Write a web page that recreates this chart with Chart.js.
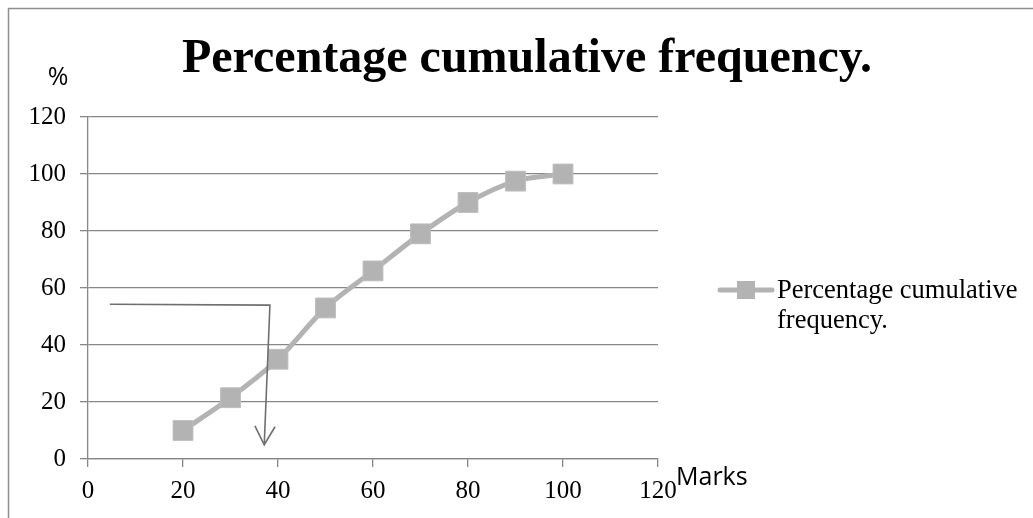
<!DOCTYPE html>
<html>
<head>
<meta charset="utf-8">
<script src="https://cdn.jsdelivr.net/npm/chart.js@4.4.1/dist/chart.umd.min.js"></script>
<style>
  body { margin: 0; background: #fff; }
  #wrap { width: 1033px; height: 518px; }
</style>
</head>
<body>
<div id="wrap"><canvas id="myChart" width="1033" height="518"></canvas></div>
<script>
// marks vs percentage cumulative frequency
const marks = [20, 30, 40, 50, 60, 70, 80, 90, 100];
const cumPercent = [10, 21.5, 35, 53, 66, 79, 90, 97.5, 100];
const seriesName = 'Percentage cumulative frequency.';
const xTicks = [0, 20, 40, 60, 80, 100, 120];
const yTicks = [0, 20, 40, 60, 80, 100, 120];

// reading line for the median: across from 54% then down to the marks axis
const arrowX = [4.6, 38.3, 37.1];
const arrowY = [54.3, 54.0, 5.0];

const gridGray = '#878787';
const seriesGray = '#b3b3b3';
const serif = '"Liberation Serif", "Times New Roman", serif';
const sans = '"Open Sans", "Liberation Sans", sans-serif';

const extras = {
  id: 'extras',
  beforeDraw(chart) {
    const ctx = chart.ctx;
    ctx.save();
    ctx.fillStyle = '#fff';
    ctx.fillRect(0, 0, chart.width, chart.height);
    // outer frame (top and left)
    ctx.strokeStyle = '#8e8e8e';
    ctx.lineWidth = 1.5;
    ctx.beginPath();
    ctx.moveTo(8.5, chart.height);
    ctx.lineTo(8.5, 8.5);
    ctx.lineTo(chart.width, 8.5);
    ctx.stroke();
    ctx.restore();
  },
  afterDraw(chart) {
    const ctx = chart.ctx;
    const xs = chart.scales.x, ys = chart.scales.y;
    ctx.save();

    // title
    ctx.fillStyle = '#000';
    ctx.font = 'bold 48px ' + serif;
    ctx.textAlign = 'center';
    ctx.textBaseline = 'alphabetic';
    ctx.fillText(seriesName, 527, 72);

    // axis captions
    ctx.font = '25px ' + sans;
    ctx.fillText('%', 58, 85);
    ctx.textAlign = 'left';
    ctx.font = '25px ' + sans;
    ctx.fillText('Marks', 676, 485);

    // arrow head at the end of the reading line
    const n = arrowX.length;
    const tx = xs.getPixelForValue(arrowX[n - 1]), ty = ys.getPixelForValue(arrowY[n - 1]);
    const px = xs.getPixelForValue(arrowX[n - 2]), py = ys.getPixelForValue(arrowY[n - 2]);
    const ang = Math.atan2(ty - py, tx - px);
    const len = 21, spread = 0.5;
    ctx.strokeStyle = '#6f6f6f';
    ctx.lineWidth = 1.6;
    ctx.beginPath();
    ctx.moveTo(tx - len * Math.cos(ang - spread), ty - len * Math.sin(ang - spread));
    ctx.lineTo(tx, ty);
    ctx.lineTo(tx - len * Math.cos(ang + spread), ty - len * Math.sin(ang + spread));
    ctx.stroke();

    // legend
    const ly = 290;
    ctx.strokeStyle = seriesGray;
    ctx.lineWidth = 5;
    ctx.lineCap = 'round';
    ctx.beginPath();
    ctx.moveTo(720, ly);
    ctx.lineTo(772, ly);
    ctx.stroke();
    ctx.fillStyle = seriesGray;
    ctx.fillRect(737, ly - 9, 18, 18);
    ctx.fillStyle = '#000';
    ctx.font = '26.5px ' + serif;
    ctx.textAlign = 'left';
    ctx.fillText('Percentage cumulative', 777, 298);
    ctx.fillText('frequency.', 777, 328);

    ctx.restore();
  }
};

const ctx = document.getElementById('myChart');
new Chart(ctx, {
  type: 'line',
  data: {
    datasets: [
      {
        label: 'reading',
        data: arrowX.map((x, i) => ({ x: x, y: arrowY[i] })),
        borderColor: '#6f6f6f',
        borderWidth: 1.6,
        pointRadius: 0,
        tension: 0,
        order: 0
      },
      {
        label: seriesName,
        data: marks.map((m, i) => ({ x: m, y: cumPercent[i] })),
        borderColor: seriesGray,
        borderWidth: 5,
        backgroundColor: seriesGray,
        pointStyle: 'rect',
        pointRadius: 14,
        pointBorderColor: '#bcbcbc',
        pointBorderWidth: 1,
        tension: 0.3,
        order: 1
      }
    ]
  },
  options: {
    responsive: false,
    animation: false,
    layout: { padding: { left: 0, top: 117, right: 375, bottom: 0 } },
    plugins: {
      legend: { display: false },
      title: { display: false },
      tooltip: { enabled: false }
    },
    scales: {
      x: {
        type: 'linear',
        min: xTicks[0],
        max: xTicks[xTicks.length - 1],
        afterBuildTicks(scale) { scale.ticks = xTicks.map(v => ({ value: v })); },
        afterFit(scale) { scale.height = 59; },
        ticks: { color: '#000', font: { family: serif, size: 25 }, padding: 9, maxRotation: 0 },
        grid: { drawOnChartArea: false, tickLength: 8, color: gridGray, lineWidth: 1.3 },
        border: { color: gridGray, width: 1.3 }
      },
      y: {
        min: yTicks[0],
        max: yTicks[yTicks.length - 1],
        afterBuildTicks(scale) { scale.ticks = yTicks.map(v => ({ value: v })); },
        afterFit(scale) { scale.width = 88; },
        ticks: { color: '#000', font: { family: serif, size: 25 }, padding: 14 },
        grid: { tickLength: 8, color: gridGray, lineWidth: 1.3 },
        border: { color: gridGray, width: 1.3 }
      }
    }
  },
  plugins: [extras]
});
</script>
</body>
</html>
